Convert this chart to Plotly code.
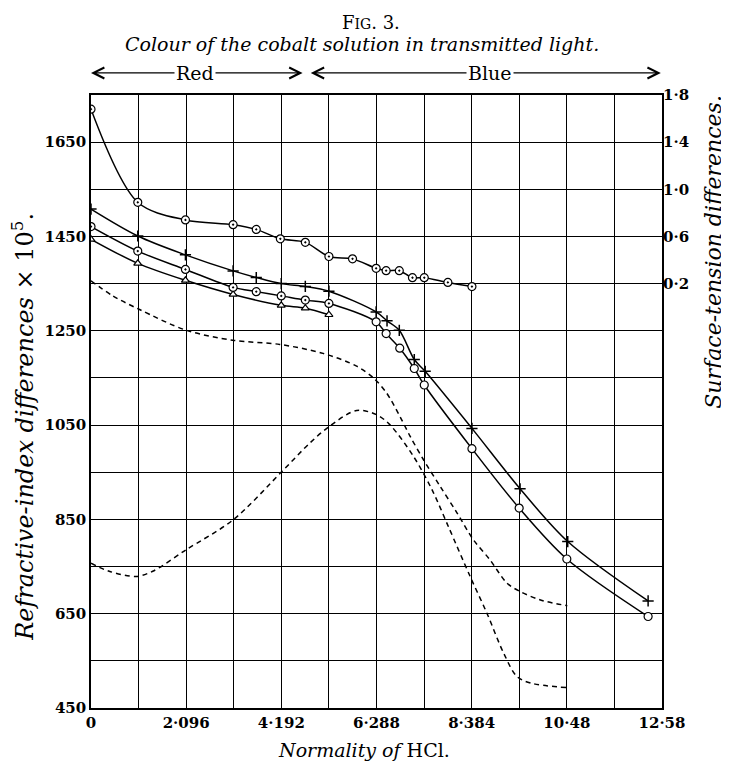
import plotly.graph_objects as go

# ---------------- data ----------------
# Surface-tension differences (right axis), open circles with dot
st_x = [0, 1.03, 2.08, 3.13, 3.64, 4.17, 4.72, 5.24, 5.76, 6.28, 6.50, 6.79, 7.08, 7.34, 7.86, 8.39]
st_y = [1.68, 0.89, 0.74, 0.70, 0.66, 0.58, 0.55, 0.43, 0.41, 0.33, 0.31, 0.31, 0.25, 0.25, 0.21, 0.175]

# Refractive-index differences x 10^5 (left axis)
cross_x = [0, 1.03, 2.08, 3.13, 3.64, 4.19, 4.72, 5.24, 6.28, 6.52, 6.79, 7.12, 7.36, 8.39, 9.45, 10.50, 12.27]
cross_y = [1508, 1451, 1411, 1377, 1363, 1350, 1344, 1334, 1290, 1271, 1251, 1189, 1164, 1043, 915, 803, 677]

circ_x = [0, 1.03, 2.08, 3.13, 3.64, 4.19, 4.72, 5.24, 6.28, 6.50, 6.80, 7.12, 7.34, 8.39, 9.43, 10.48, 12.27]
circ_y = [1471, 1419, 1380, 1342, 1333, 1324, 1315, 1308, 1269, 1244, 1213, 1170, 1135, 1000, 874, 766, 644]

tri_x = [0, 1.03, 2.08, 3.13, 4.19, 4.72, 5.24]
tri_y = [1444, 1393, 1357, 1327, 1304, 1298, 1284]

# dashed curves (left axis)
dashA_x = [0, 0.48, 1.07, 2.10, 3.12, 4.16, 5.11, 5.85, 6.22, 6.51, 6.80, 7.03, 7.32, 7.69, 8.06, 8.42, 8.79, 9.16, 9.45, 9.90, 10.49]
dashA_y = [1356, 1324, 1295, 1251, 1230, 1221, 1202, 1175, 1150, 1118, 1069, 1026, 977, 920, 864, 807, 764, 715, 697, 679, 667]

dashB_x = [0, 0.40, 0.99, 1.36, 2.10, 3.13, 4.21, 4.82, 5.26, 5.85, 6.29, 6.58, 7.10, 7.51, 7.87, 8.35, 8.72, 9.09, 9.38, 9.68, 10.49]
dashB_y = [757, 740, 729, 740, 786, 849, 952, 1012, 1048, 1081, 1072, 1051, 984, 913, 835, 729, 651, 566, 517, 503, 493]

# axes / tick labels
x_tickvals = [0, 1.048, 2.096, 3.144, 4.192, 5.24, 6.288, 7.336, 8.384, 9.432, 10.48, 11.528, 12.576]
x_ticktext = ["0", "", "2·096", "", "4·192", "", "6·288", "", "8·384", "", "10·48", "", "12·58"]
y_tickvals = [450, 550, 650, 750, 850, 950, 1050, 1150, 1250, 1350, 1450, 1550, 1650, 1750]
y_ticktext = ["450", "", "650", "", "850", "", "1050", "", "1250", "", "1450", "", "1650", ""]
y2_tickvals = [0.2, 0.6, 1.0, 1.4, 1.8]
y2_ticktext = ["0·2", "0·6", "1·0", "1·4", "1·8"]

# ---------------- figure ----------------
SERIF = "DejaVu Serif"
fig = go.Figure()

line_solid = dict(color="black", width=1.5, shape="spline", smoothing=0.9)
line_dash = dict(color="black", width=1.5, shape="spline", smoothing=0.9, dash="5px,4px")

fig.add_trace(go.Scatter(x=dashA_x, y=dashA_y, mode="lines", line=line_dash, hoverinfo="skip"))
fig.add_trace(go.Scatter(x=dashB_x, y=dashB_y, mode="lines", line=line_dash, hoverinfo="skip"))

fig.add_trace(go.Scatter(x=tri_x, y=tri_y, mode="lines+markers", line=line_solid,
                         marker=dict(symbol="triangle-up", size=7, color="white",
                                     line=dict(color="black", width=1.2))))
circ_symbols = ["circle-dot"] * 8 + ["circle"] * 9
fig.add_trace(go.Scatter(x=circ_x, y=circ_y, mode="lines+markers", line=line_solid,
                         marker=dict(symbol=circ_symbols, size=8, color="white",
                                     line=dict(color="black", width=1.2))))
fig.add_trace(go.Scatter(x=cross_x, y=cross_y, mode="lines+markers", line=line_solid,
                         marker=dict(symbol="cross-thin", size=8, color="black",
                                     line=dict(color="black", width=1.5))))
fig.add_trace(go.Scatter(x=st_x, y=st_y, mode="lines+markers", yaxis="y2", line=line_solid,
                         marker=dict(symbol="circle-dot", size=8, color="white",
                                     line=dict(color="black", width=1.2))))

tickfont = dict(family=SERIF, size=15, color="black", weight="bold")

# page body has an 8px default margin, so the figure is sized to fit inside it
fig.update_layout(
    width=721, height=753,
    margin=dict(l=83, r=67, t=87, b=53),
    paper_bgcolor="white", plot_bgcolor="white",
    showlegend=False,
    xaxis=dict(range=[0, 12.576], tickvals=x_tickvals, ticktext=x_ticktext,
               showgrid=True, gridcolor="black", gridwidth=1,
               showline=True, linecolor="black", linewidth=1.5, mirror=True,
               ticks="", tickfont=tickfont, zeroline=False),
    yaxis=dict(range=[450, 1750], tickvals=y_tickvals, ticktext=y_ticktext,
               showgrid=True, gridcolor="black", gridwidth=1,
               showline=True, linecolor="black", linewidth=1.5, mirror=True,
               ticks="", tickfont=tickfont, zeroline=False),
    yaxis2=dict(range=[-3.4, 1.8], tickvals=y2_tickvals, ticktext=y2_ticktext,
                overlaying="y", side="right", showgrid=False, zeroline=False,
                showline=False, ticks="", tickfont=tickfont),
)

ann = []
C = dict(xanchor="center", yanchor="middle", showarrow=False)
# titles
ann.append(dict(text="F<span style='font-size:14px'>IG</span>. 3.", x=0.49, y=1.138, xref="paper", yref="paper",
                xanchor="center", yanchor="top", showarrow=False,
                font=dict(family=SERIF, size=18, color="black")))
ann.append(dict(text="<i>Colour of the cobalt solution in transmitted light.</i>", x=0.475, y=1.083,
                xref="paper", yref="paper", font=dict(family=SERIF, size=19, color="black"), **C))
# axis titles
ann.append(dict(text="<i>Normality of</i> HCl.", x=0.478, y=-0.068, xref="paper", yref="paper",
                font=dict(family=SERIF, size=19, color="black"), **C))
ann.append(dict(text="<i>Refractive-index differences</i> × 10<sup>5</sup>.", x=-0.118, y=0.458,
                xref="paper", yref="paper", textangle=-90,
                font=dict(family=SERIF, size=24, color="black"), **C))
ann.append(dict(text="<i>Surface-tension differences.</i>", x=1.09, y=0.745,
                xref="paper", yref="paper", textangle=-90,
                font=dict(family=SERIF, size=22, color="black"), **C))

# colour arrows
ARR_Y = 1.036
for (tail, head) in [(2.3, 0.0), (2.3, 4.66), (8.79, 4.84), (8.79, 12.55)]:
    ann.append(dict(x=head, y=ARR_Y, xref="x", yref="paper", ax=tail, ay=0, axref="x", ayref="pixel",
                    text="", showarrow=True, arrowhead=5, arrowsize=1.8, arrowwidth=1.2,
                    arrowcolor="black"))
for (xc, label) in [(2.3, "Red"), (8.79, "Blue")]:
    ann.append(dict(x=xc, y=ARR_Y, xref="x", yref="paper", text=label, showarrow=False,
                    bgcolor="white", xanchor="center", yanchor="middle",
                    font=dict(family=SERIF, size=19, color="black")))

fig.update_layout(annotations=ann)
fig.write_html("out.html")
